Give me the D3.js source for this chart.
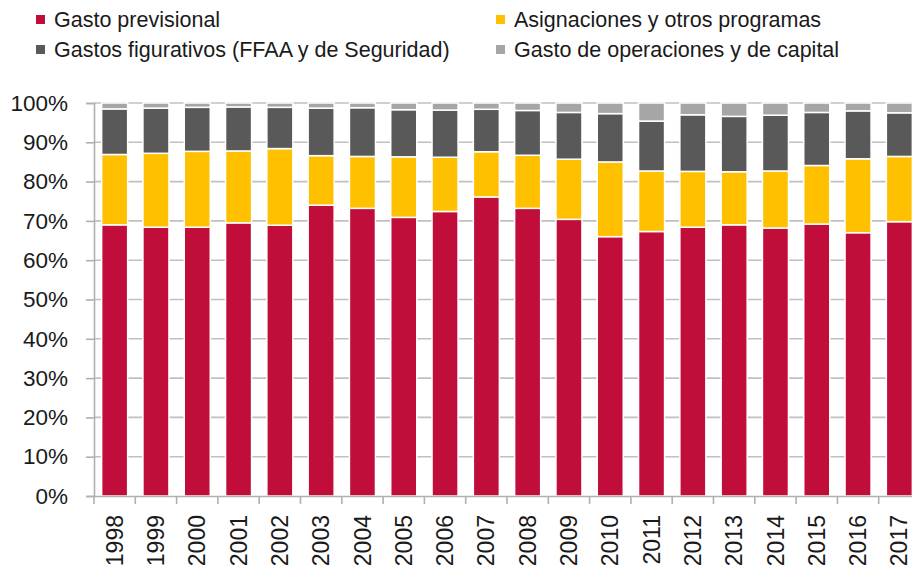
<!DOCTYPE html>
<html>
<head>
<meta charset="utf-8">
<script src="https://cdn.jsdelivr.net/npm/d3@7"></script>
<style>
  body { margin:0; background:#fff; }
  svg text { font-family:"Liberation Sans", Arial, sans-serif; fill:#1a1a1a; }
</style>
</head>
<body>
<script>
var years = ['1998','1999','2000','2001','2002','2003','2004','2005','2006','2007',
             '2008','2009','2010','2011','2012','2013','2014','2015','2016','2017'];
var previsional = [69.0,68.4,68.4,69.5,68.9,74.0,73.2,70.9,72.4,76.1,73.2,70.4,66.0,67.3,68.4,69.0,68.2,69.2,67.0,69.8];
var asignaciones = [17.9,18.8,19.3,18.3,19.5,12.6,13.2,15.4,13.8,11.5,13.5,15.3,19.0,15.4,14.2,13.5,14.5,14.9,18.8,16.6];
var figurativos = [11.6,11.5,11.2,11.2,10.5,12.1,12.4,12.0,12.0,10.8,11.4,11.9,12.3,12.7,14.4,14.1,14.2,13.5,12.2,11.1];
var operaciones = [1.5,1.3,1.1,1.0,1.1,1.3,1.2,1.7,1.8,1.6,1.9,2.4,2.7,4.6,3.0,3.4,3.1,2.4,2.0,2.5];
var seriesNames = ['Gasto previsional','Asignaciones y otros programas',
                   'Gastos figurativos (FFAA y de Seguridad)','Gasto de operaciones y de capital'];
var colors = ['#c00d3a','#ffc000','#595959','#a6a6a6'];
var yTicks = [0,10,20,30,40,50,60,70,80,90,100];

var W=912, H=569;
var svg = d3.select('body').append('svg').attr('width',W).attr('height',H);

var rows = years.map(function(y,i){
  return {year:y, s0:previsional[i], s1:asignaciones[i], s2:figurativos[i], s3:operaciones[i]};
});
var stack = d3.stack().keys(['s0','s1','s2','s3'])(rows);

var x = d3.scaleBand().domain(years).range([94,920]).paddingInner(0.37).paddingOuter(0.185);
var y = d3.scaleLinear().domain([0,100]).range([496,103]);

// grid
svg.append('g').selectAll('line').data(yTicks.slice(1)).enter().append('line')
  .attr('x1',94).attr('x2',W).attr('y1',function(d){return y(d);}).attr('y2',function(d){return y(d);})
  .attr('stroke','#c0c0c0').attr('stroke-width',1.6);

// bars
svg.append('g').selectAll('g').data(stack).enter().append('g')
  .attr('fill',function(d,i){return colors[i];})
  .selectAll('rect').data(function(d){return d;}).enter().append('rect')
  .attr('x',function(d){return x(d.data.year);})
  .attr('width',x.bandwidth())
  .attr('y',function(d){return y(d[1]);})
  .attr('height',function(d){return y(d[0])-y(d[1]);})
  .attr('stroke','#fff').attr('stroke-width',1.5);

// y axis
var yAxis = d3.axisLeft(y).tickValues(yTicks).tickSize(8).tickPadding(18)
  .tickFormat(function(d){return d+'%';});
var gy = svg.append('g').attr('transform','translate(94,0)').call(yAxis);
gy.select('.domain').attr('stroke','#b0b0b0').attr('stroke-width',1.6);
gy.selectAll('.tick line').attr('stroke','#b0b0b0').attr('stroke-width',1.6);
gy.selectAll('text').style('font-size','22.5px').attr('fill','#1a1a1a');

// x axis
var xAxis = d3.axisBottom(x).tickSize(0).tickSizeOuter(0);
var gx = svg.append('g').attr('transform','translate(0,496)').call(xAxis);
gx.select('.domain').attr('stroke','#b0b0b0').attr('stroke-width',1.6);
gx.selectAll('.tick text').style('font-size','23px').attr('fill','#1a1a1a')
  .attr('text-anchor','end').attr('transform','rotate(-90)')
  .attr('x',-19).attr('y',0).attr('dy','0.35em');
gx.selectAll('.tk').data(d3.range(years.length+1)).enter().append('line').attr('class','tk')
  .attr('x1',function(i){return 94+i*x.step();}).attr('x2',function(i){return 94+i*x.step();})
  .attr('y1',0).attr('y2',8).attr('stroke','#b0b0b0').attr('stroke-width',1.6);

// legend
var legPos = [[36,19.5],[496,19.5],[36,49.5],[496,49.5]];
var leg = svg.append('g').selectAll('g').data(seriesNames).enter().append('g')
  .attr('transform',function(d,i){return 'translate('+legPos[i][0]+','+legPos[i][1]+')';});
leg.append('rect').attr('x',0).attr('y',-4.5).attr('width',9).attr('height',9)
  .attr('fill',function(d,i){return colors[i];});
leg.append('text').attr('x',18).attr('y',0).attr('dy','0.36em')
  .style('font-size','21.5px').text(function(d){return d;});
</script>
</body>
</html>
